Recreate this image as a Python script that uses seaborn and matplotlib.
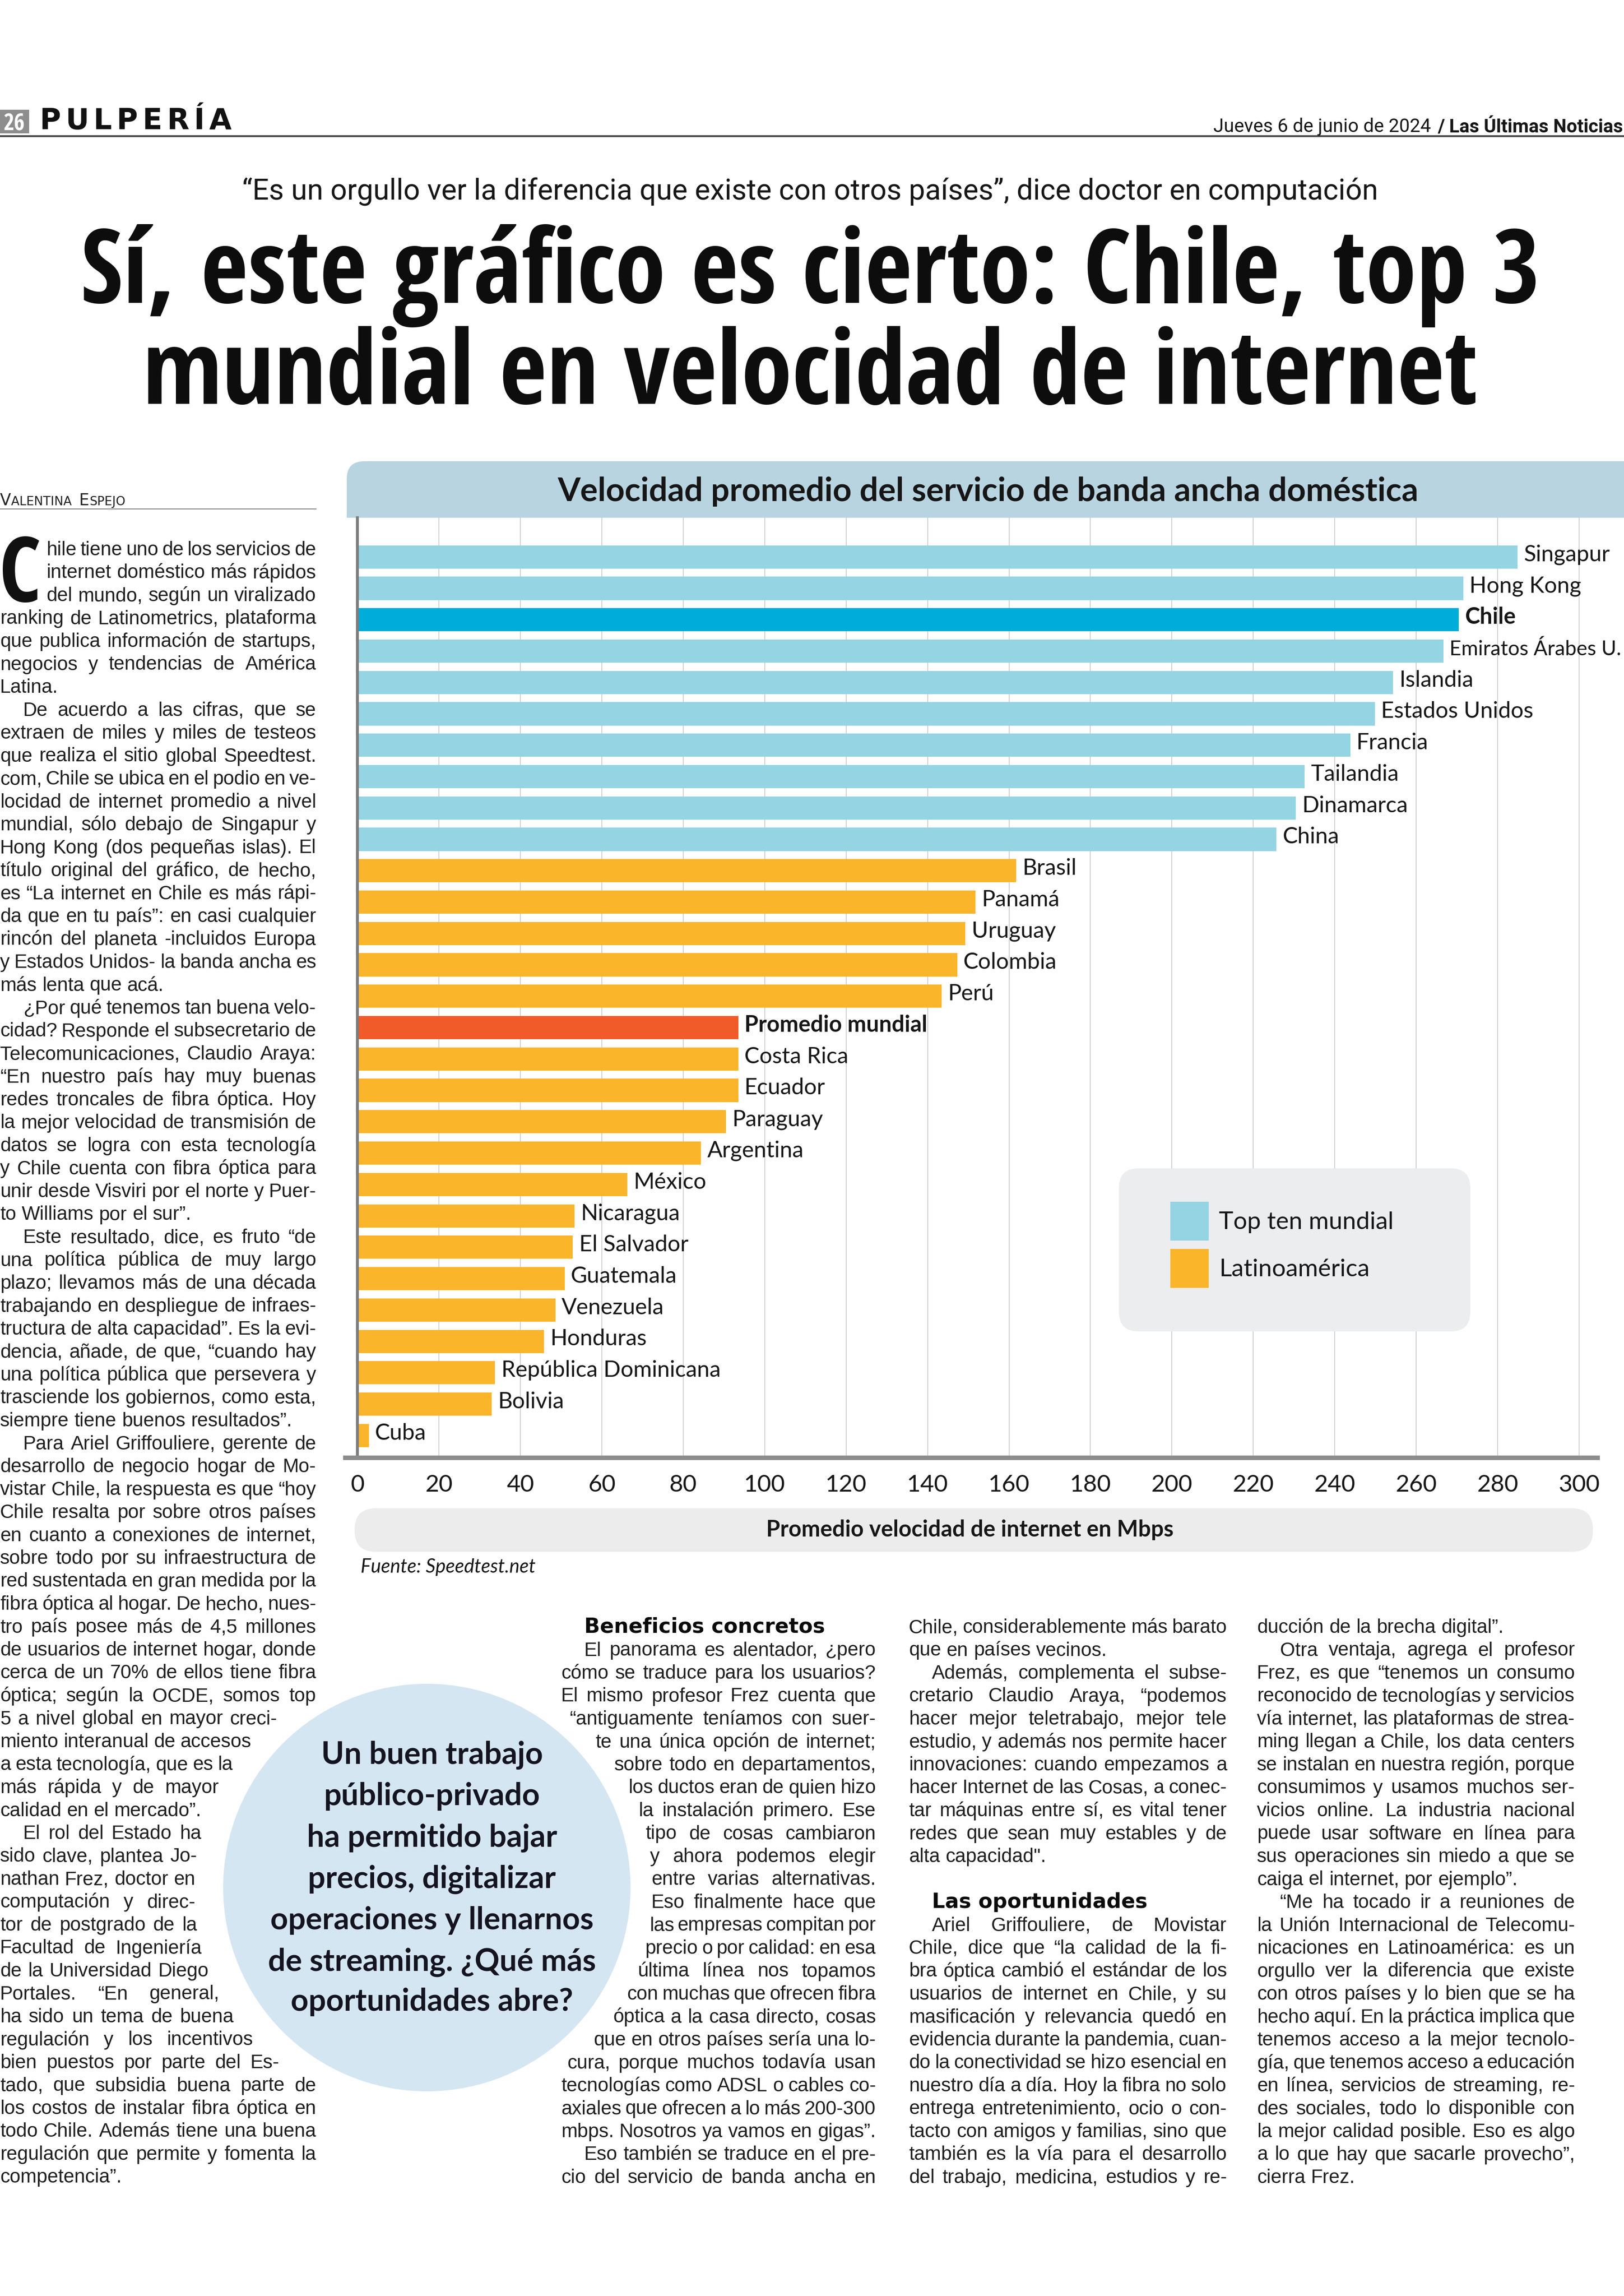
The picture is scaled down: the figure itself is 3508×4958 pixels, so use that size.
import numpy as np
import pandas as pd
import matplotlib
matplotlib.use('Agg')
import matplotlib.pyplot as plt
import matplotlib.font_manager as fm
from matplotlib.font_manager import FontProperties
from matplotlib.patches import FancyBboxPatch, Rectangle, Circle, Patch
import seaborn as sns

# ---------------- data ----------------
countries = ['Singapur', 'Hong Kong', 'Chile', 'Emiratos Árabes U.', 'Islandia',
             'Estados Unidos', 'Francia', 'Tailandia', 'Dinamarca', 'China',
             'Brasil', 'Panamá', 'Uruguay', 'Colombia', 'Perú', 'Promedio mundial',
             'Costa Rica', 'Ecuador', 'Paraguay', 'Argentina', 'México', 'Nicaragua',
             'El Salvador', 'Guatemala', 'Venezuela', 'Honduras',
             'República Dominicana', 'Bolivia', 'Cuba']
speeds = [284.9, 271.6, 270.4, 266.7, 254.3, 249.8, 243.8, 232.6, 230.4, 225.7,
          161.8, 151.8, 149.3, 147.3, 143.5, 93.5, 93.5, 93.5, 90.5, 84.4,
          66.3, 53.3, 52.9, 50.9, 48.6, 45.8, 33.8, 33.0, 2.8]
groups = ['top', 'top', 'chile', 'top', 'top', 'top', 'top', 'top', 'top', 'top',
          'latam', 'latam', 'latam', 'latam', 'latam', 'mundo', 'latam', 'latam',
          'latam', 'latam', 'latam', 'latam', 'latam', 'latam', 'latam', 'latam',
          'latam', 'latam', 'latam']
bold_labels = ['Chile', 'Promedio mundial']
xticks = list(range(0, 301, 20))
legend_labels = ['Top ten mundial', 'Latinoamérica']

chart_title = 'Velocidad promedio del servicio de banda ancha doméstica'
x_label = 'Promedio velocidad de internet en Mbps'
source = 'Fuente: Speedtest.net'

section = 'PULPERÍA'
page_no = '26'
date_txt = 'Jueves 6 de junio de 2024'
paper = '/ Las Últimas Noticias'
kicker = '“Es un orgullo ver la diferencia que existe con otros países”, dice doctor en computación'
headline = ['Sí, este gráfico es cierto: Chile, top 3',
            'mundial en velocidad de internet']
byline = [('V', 'big'), ('ALENTINA ', 'small'), ('E', 'big'), ('SPEJO', 'small')]

pull_quote = ['Un buen trabajo', 'público-privado', 'ha permitido bajar',
              'precios, digitalizar', 'operaciones y llenarnos',
              'de streaming. ¿Qué más', 'oportunidades abre?']

col1 = [
    "hile tiene uno de los servicios de",
    "internet doméstico más rápidos",
    "del mundo, según un viralizado",
    "ranking de Latinometrics, plataforma",
    "que publica información de startups,",
    "negocios y tendencias de América",
    "Latina.",
    ">De acuerdo a las cifras, que se",
    "extraen de miles y miles de testeos",
    "que realiza el sitio global Speedtest.",
    "com, Chile se ubica en el podio en ve-",
    "locidad de internet promedio a nivel",
    "mundial, sólo debajo de Singapur y",
    "Hong Kong (dos pequeñas islas). El",
    "título original del gráfico, de hecho,",
    "es “La internet en Chile es más rápi-",
    "da que en tu país”: en casi cualquier",
    "rincón del planeta -incluidos Europa",
    "y Estados Unidos- la banda ancha es",
    "más lenta que acá.",
    ">¿Por qué tenemos tan buena velo-",
    "cidad? Responde el subsecretario de",
    "Telecomunicaciones, Claudio Araya:",
    "“En nuestro país hay muy buenas",
    "redes troncales de fibra óptica. Hoy",
    "la mejor velocidad de transmisión de",
    "datos se logra con esta tecnología",
    "y Chile cuenta con fibra óptica para",
    "unir desde Visviri por el norte y Puer-",
    "to Williams por el sur”.",
    ">Este resultado, dice, es fruto “de",
    "una política pública de muy largo",
    "plazo; llevamos más de una década",
    "trabajando en despliegue de infraes-",
    "tructura de alta capacidad”. Es la evi-",
    "dencia, añade, de que, “cuando hay",
    "una política pública que persevera y",
    "trasciende los gobiernos, como esta,",
    "siempre tiene buenos resultados”.",
    ">Para Ariel Griffouliere, gerente de",
    "desarrollo de negocio hogar de Mo-",
    "vistar Chile, la respuesta es que “hoy",
    "Chile resalta por sobre otros países",
    "en cuanto a conexiones de internet,",
    "sobre todo por su infraestructura de",
    "red sustentada en gran medida por la",
    "fibra óptica al hogar. De hecho, nues-",
    "tro país posee más de 4,5 millones",
    "de usuarios de internet hogar, donde",
    "cerca de un 70% de ellos tiene fibra",
    "óptica; según la OCDE, somos top",
    "5 a nivel global en mayor creci-",
    "miento interanual de accesos",
    "a esta tecnología, que es la",
    "más rápida y de mayor",
    "calidad en el mercado”.",
    ">El rol del Estado ha",
    "sido clave, plantea Jo-",
    "nathan Frez, doctor en",
    "computación y direc-",
    "tor de postgrado de la",
    "Facultad de Ingeniería",
    "de la Universidad Diego",
    "Portales. “En general,",
    "ha sido un tema de buena",
    "regulación y los incentivos",
    "bien puestos por parte del Es-",
    "tado, que subsidia buena parte de",
    "los costos de instalar fibra óptica en",
    "todo Chile. Además tiene una buena",
    "regulación que permite y fomenta la",
    "competencia”.",
]

col2 = [
    "#Beneficios concretos",
    ">El panorama es alentador, ¿pero",
    "cómo se traduce para los usuarios?",
    "El mismo profesor Frez cuenta que",
    "“antiguamente teníamos con suer-",
    "te una única opción de internet;",
    "sobre todo en departamentos,",
    "los ductos eran de quien hizo",
    "la instalación primero. Ese",
    "tipo de cosas cambiaron",
    "y ahora podemos elegir",
    "entre varias alternativas.",
    "Eso finalmente hace que",
    "las empresas compitan por",
    "precio o por calidad: en esa",
    "última línea nos topamos",
    "con muchas que ofrecen fibra",
    "óptica a la casa directo, cosas",
    "que en otros países sería una lo-",
    "cura, porque muchos todavía usan",
    "tecnologías como ADSL o cables co-",
    "axiales que ofrecen a lo más 200-300",
    "mbps. Nosotros ya vamos en gigas”.",
    ">Eso también se traduce en el pre-",
    "cio del servicio de banda ancha en",
]

col3 = [
    "Chile, considerablemente más barato",
    "que en países vecinos.",
    ">Además, complementa el subse-",
    "cretario Claudio Araya, “podemos",
    "hacer mejor teletrabajo, mejor tele",
    "estudio, y además nos permite hacer",
    "innovaciones: cuando empezamos a",
    "hacer Internet de las Cosas, a conec-",
    "tar máquinas entre sí, es vital tener",
    "redes que sean muy estables y de",
    "alta capacidad\".",
    "",
    "#Las oportunidades",
    ">Ariel Griffouliere, de Movistar",
    "Chile, dice que “la calidad de la fi-",
    "bra óptica cambió el estándar de los",
    "usuarios de internet en Chile, y su",
    "masificación y relevancia quedó en",
    "evidencia durante la pandemia, cuan-",
    "do la conectividad se hizo esencial en",
    "nuestro día a día. Hoy la fibra no solo",
    "entrega entretenimiento, ocio o con-",
    "tacto con amigos y familias, sino que",
    "también es la vía para el desarrollo",
    "del trabajo, medicina, estudios y re-",
]

col4 = [
    "ducción de la brecha digital”.",
    ">Otra ventaja, agrega el profesor",
    "Frez, es que “tenemos un consumo",
    "reconocido de tecnologías y servicios",
    "vía internet, las plataformas de strea-",
    "ming llegan a Chile, los data centers",
    "se instalan en nuestra región, porque",
    "consumimos y usamos muchos ser-",
    "vicios online. La industria nacional",
    "puede usar software en línea para",
    "sus operaciones sin miedo a que se",
    "caiga el internet, por ejemplo”.",
    ">“Me ha tocado ir a reuniones de",
    "la Unión Internacional de Telecomu-",
    "nicaciones en Latinoamérica: es un",
    "orgullo ver la diferencia que existe",
    "con otros países y lo bien que se ha",
    "hecho aquí. En la práctica implica que",
    "tenemos acceso a la mejor tecnolo-",
    "gía, que tenemos acceso a educación",
    "en línea, servicios de streaming, re-",
    "des sociales, todo lo disponible con",
    "la mejor calidad posible. Eso es algo",
    "a lo que hay que sacarle provecho”,",
    "cierra Frez.",
]

# ---------------- style ----------------
TOP = '#94d4e3'
CHILE = '#00acd9'
LATAM = '#fab52a'
MUNDO = '#f15a29'
palette = {'top': TOP, 'chile': CHILE, 'latam': LATAM, 'mundo': MUNDO}

sns.set_style('white')
plt.rcParams['font.family'] = ['Lato', 'DejaVu Sans']

available = {f.name for f in fm.fontManager.ttflist}


def pick(*names):
    for n in names:
        if n in available:
            return n
    return 'DejaVu Sans'


COND = pick('Open Sans Condensed', 'Liberation Sans Narrow', 'Roboto', 'Liberation Sans')
THIN = pick('Roboto', 'Liberation Sans')
BODY = pick('Liberation Sans', 'DejaVu Sans')
CHART = pick('Lato', 'Open Sans', 'DejaVu Sans')

W, H, DPI = 3508, 4958, 100
fig = plt.figure(figsize=(W / DPI, H / DPI), dpi=DPI)
fig.patch.set_facecolor('white')
ax_bg = fig.add_axes([0, 0, 1, 1])
ax_bg.set_xlim(0, W)
ax_bg.set_ylim(H, 0)
ax_bg.axis('off')
ax_bg.set_zorder(0)
renderer = fig.canvas.get_renderer()


def fp(family, size, weight='normal', style='normal'):
    return FontProperties(family=family, size=size, weight=weight, style=style)


def text_w(s, prop):
    return renderer.get_text_width_height_descent(s, prop, ismath=False)[0]


def fit(s, family, target, max_size, weight='normal', style='normal'):
    w = text_w(s, fp(family, 100, weight, style))
    return min(max_size, 100 * target / w)


INK = '#161616'

# ---------------- page header ----------------
ax_bg.add_patch(Rectangle((0, 237), 63, 51, color='#8d8d8d', lw=0))
s = fit(page_no, COND, 48, 36, 'bold')
ax_bg.text(31, 281, page_no, fontproperties=fp(COND, s, 'bold'), color='white',
           ha='center', va='baseline')

# section name, letter-spaced to the width of the original
sec_fp = fp('DejaVu Sans', 45, 'heavy')
widths = [text_w(ch, sec_fp) for ch in section]
track = (415 - sum(widths)) / (len(section) - 1)
x = 85
for ch, wd in zip(section, widths):
    ax_bg.text(x, 279, ch, fontproperties=sec_fp, color='#111', va='baseline')
    x += wd + track
ax_bg.plot([0, W], [294, 294], color='#4a4a4a', lw=3, solid_capstyle='butt')

s = fit(date_txt + ' ' + paper, THIN, 879, 32)
wb = text_w(paper, fp(THIN, s, 'bold'))
ax_bg.text(3506, 285, paper, fontproperties=fp(THIN, s, 'bold'), color=INK,
           ha='right', va='baseline')
ax_bg.text(3506 - wb - 14, 285, date_txt, fontproperties=fp(THIN, s), color=INK,
           ha='right', va='baseline')

s = fit(kicker, THIN, 2450, 48)
ax_bg.text(1750, 430, kicker, fontproperties=fp(THIN, s), color=INK,
           ha='center', va='baseline')

s = min(fit(headline[0], COND, 3214, 172, 'bold'),
        fit(headline[1], COND, 2882, 172, 'bold'))
for line, y in zip(headline, [654, 872]):
    ax_bg.text(1750, y, line, fontproperties=fp(COND, s, 'bold'), color='#0d0d0d',
               ha='center', va='baseline')

# byline in small caps
x = 0
for part, kind in byline:
    prop = fp('DejaVu Sans', 25 if kind == 'big' else 19)
    ax_bg.text(x, 1091, part, fontproperties=prop, color='#222', va='baseline')
    x += text_w(part.replace(' ', '\u00a0'), prop) + (8 if part.endswith(' ') else 0)
ax_bg.plot([0, 683], [1099, 1099], color='#8a8a8a', lw=1.5)

# ---------------- chart ----------------
band = FancyBboxPatch((749, 996), 2800, 122, boxstyle='round,pad=0,rounding_size=38',
                      fc='#b8d4e0', ec='none')
ax_bg.add_patch(band)
ax_bg.add_patch(Rectangle((749, 1060), 2800, 58, fc='#b8d4e0', ec='none'))
s = fit(chart_title, CHART, 2065, 51, 'bold')
ax_bg.text(2134, 1082, chart_title, fontproperties=fp(CHART, s, 'bold'), color=INK,
           ha='center', va='baseline')

AX_L, AX_R, AX_T, AX_B = 745.6, 3450.7, 1118, 3148
ax = fig.add_axes([AX_L / W, 1 - AX_B / H, (AX_R - AX_L) / W, (AX_B - AX_T) / H])
ax.set_zorder(2)
ax.patch.set_alpha(0)

df = pd.DataFrame({'pais': countries, 'mbps': speeds, 'grupo': groups})
sns.barplot(data=df, x='mbps', y='pais', hue='grupo', order=countries,
            hue_order=['top', 'chile', 'latam', 'mundo'], palette=palette,
            dodge=False, width=0.74, saturation=1, orient='h', errorbar=None,
            legend=False, linewidth=0, ax=ax)

ax.set_xlim(-3, 304.5)
ax.set_ylim(len(countries) - 0.29, -1.25)
ax.set_yticks([])
ax.set_ylabel('')
ax.set_xticks(xticks)
ax.set_xticklabels([str(t) for t in xticks], fontproperties=fp(CHART, 37), color=INK)
ax.tick_params(axis='x', direction='inout', length=24, width=3.2, color='#808080', pad=14)
ax.set_axisbelow(True)
ax.grid(axis='x', color='#cdcdcd', linewidth=1.3)
ax.grid(axis='y', visible=False)
for side in ['top', 'right']:
    ax.spines[side].set_visible(False)
ax.spines['left'].set_position(('data', 0))
ax.spines['left'].set_color('#7d7d7d')
ax.spines['left'].set_linewidth(4.5)
ax.spines['bottom'].set_color('#8c8c8c')
ax.spines['bottom'].set_linewidth(7)

# country labels next to the bars
for i, (c, v) in enumerate(zip(countries, speeds)):
    weight = 'bold' if c in bold_labels else 'normal'
    x_px = ax.transData.transform((v + 1.5, 0))[0]
    size = min(35, 35 * (3502 - x_px) / text_w(c, fp(CHART, 35, weight)))
    ax.text(v + 1.5, i + 0.13, c, fontproperties=fp(CHART, size, weight), color=INK,
            ha='left', va='baseline', clip_on=False)

# legend
leg_box = FancyBboxPatch((2417, 2523), 759, 352, boxstyle='round,pad=0,rounding_size=42',
                         fc='#ebedef', ec='none', transform=ax_bg.transData, zorder=2.5)
ax.add_patch(leg_box)
ax.set_xlim(-3, 304.5)
ax.set_ylim(len(countries) - 0.29, -1.25)
LEG_FS = 38
fpx = LEG_FS / 0.72
hh = (84 * 0.72 / LEG_FS - 0.245) / 0.65
leg = ax.legend(handles=[Patch(facecolor=TOP, edgecolor='none'),
                         Patch(facecolor=LATAM, edgecolor='none')],
                labels=legend_labels, loc='upper left',
                bbox_to_anchor=(2528 / W, 1 - 2595 / H), bbox_transform=fig.transFigure,
                frameon=False, prop=fp(CHART, LEG_FS), handlelength=83 / fpx,
                handleheight=hh, handletextpad=22 / fpx, labelspacing=18 / fpx,
                borderpad=0, borderaxespad=0)
for t in leg.get_texts():
    t.set_color(INK)
leg.set_zorder(4)

# x label in a grey pill
ax_bg.add_patch(FancyBboxPatch((766, 3257), 2675, 94, boxstyle='round,pad=0,rounding_size=46',
                               fc='#ececec', ec='none'))
ax.set_xlabel(x_label, fontproperties=fp(CHART, 35, 'bold'), color=INK)
ax.xaxis.label.set_va('center')
ax.xaxis.set_label_coords((2095 - AX_L) / (AX_R - AX_L), (H - 3304 - (H - AX_B)) / (AX_B - AX_T))

ax_bg.text(779, 3396, source, fontproperties=fp(CHART, 30, 'normal', 'italic'), color=INK,
           va='baseline')

# ---------------- pull quote ----------------
CX, CY, R = 922, 4076, 440
ax_bg.add_patch(Circle((CX, CY), R, fc='#d4e6f2', ec='none', zorder=1))
s = fit('de streaming. ¿Qué más', CHART, 740, 48, 'bold')
for line, y in zip(pull_quote, [3809, 3898, 3988, 4077, 4166, 4256, 4342]):
    ax_bg.text(933, y, line, fontproperties=fp(CHART, s, 'bold'), color='#141420',
               ha='center', va='baseline', zorder=3)

# ---------------- body text ----------------
LEAD = 49.5
INDENT = 50
DROP_W = 100


def circle_half(y):
    yy = np.clip(CY, y - 34, y)
    dy = yy - CY
    return np.sqrt(R * R - dy * dy) if abs(dy) < R else 0


def layout_column(lines, x0, x1, y0, wrap=None, drop=0):
    rows = []
    for i, raw in enumerate(lines):
        y = y0 + i * LEAD
        if not raw:
            continue
        if raw.startswith('#'):
            rows.append(('head', raw[1:], x0 + INDENT, x1, y, False))
            continue
        txt = raw.lstrip('>')
        left = x0 + (INDENT if raw.startswith('>') else 0)
        if i < drop:
            left = x0 + DROP_W
        right = x1
        h = circle_half(y)
        if wrap == 'right' and h > 0:
            right = min(right, CX - h - 60)
        if wrap == 'left' and h > 0:
            left = max(left, CX + h + 45)
        nxt = lines[i + 1] if i + 1 < len(lines) else None
        if nxt is None:
            just = not txt.endswith('.')
        else:
            just = bool(nxt) and not nxt.startswith(('>', '#'))
        rows.append(('body', txt, left, right, y, just))
    return rows


rows = (layout_column(col1, 0, 683, 1199, wrap='right', drop=3)
        + layout_column(col2, 1212, 1892, 3526, wrap='left')
        + layout_column(col3, 1963, 2650, 3526)
        + layout_column(col4, 2715, 3402, 3526))

base = fp(BODY, 31)
sp_base = text_w('a a', base) - text_w('aa', base)
ratios = []
for kind, txt, left, right, y, just in rows:
    if kind == 'body' and just:
        words = txt.split(' ')
        nat = sum(text_w(w, base) for w in words) + (len(words) - 1) * sp_base * 0.7
        ratios.append((right - left) / nat)
body_size = min(31, 31 * np.percentile(ratios, 3))
body_fp = fp(BODY, body_size)
space = text_w('a a', body_fp) - text_w('aa', body_fp)
head_size = fit('Beneficios concretos', 'DejaVu Sans', 560, 32, 'bold')
head_fp = fp('DejaVu Sans', head_size, 'bold')

for kind, txt, left, right, y, just in rows:
    if kind == 'head':
        ax_bg.text(left, y, txt, fontproperties=head_fp, color='#0a0a0a', va='baseline')
        continue
    words = txt.split(' ')
    widths = [text_w(w, body_fp) for w in words]
    gap = space
    if just and len(words) > 1:
        gap = max((right - left - sum(widths)) / (len(words) - 1), space * 0.4)
    x = left
    for w, wd in zip(words, widths):
        ax_bg.text(x, y, w, fontproperties=body_fp, color='#1e1e1e', va='baseline', zorder=3)
        x += wd + gap

# drop cap
s = fit('C', COND, 92, 140, 'bold')
ax_bg.text(-2, 1299, 'C', fontproperties=fp(COND, s, 'bold'), color='#111',
           va='baseline')

fig.savefig('out.png', dpi=DPI)
